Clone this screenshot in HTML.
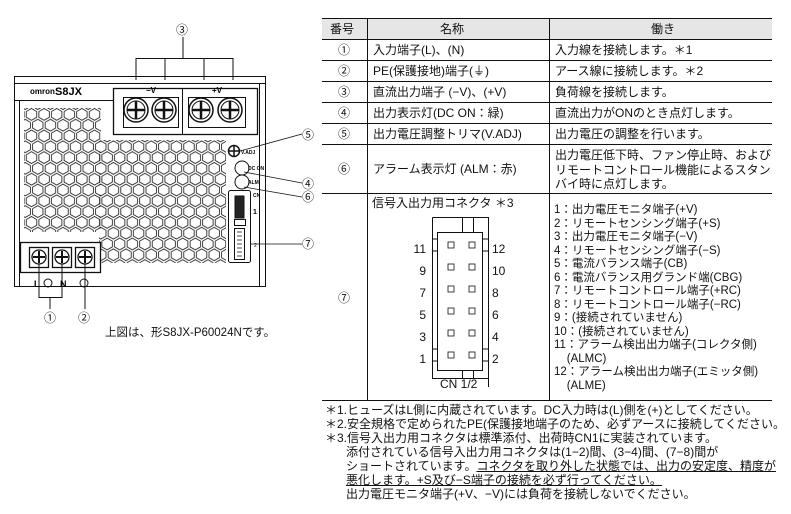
<!DOCTYPE html>
<html><head><meta charset="utf-8"><style>
body{margin:0;width:791px;height:514px;background:#fff;position:relative;overflow:hidden;font-family:"Liberation Sans","Noto Sans CJK JP",sans-serif;color:#111}
.t{position:absolute;white-space:nowrap;font-size:12px;line-height:14px}
.c{position:absolute;white-space:nowrap;font-size:11.5px;line-height:13.5px}
u{text-decoration:underline}
</style></head><body>
<svg width="791" height="514" style="position:absolute;left:0;top:0" xmlns="http://www.w3.org/2000/svg">
<defs>
<pattern id="hx" x="0" y="0" width="12.6" height="21.6" patternUnits="userSpaceOnUse">
<polygon points="6.3,0.5 11.5,3.5 11.5,9.3 6.3,12.3 1.1,9.3 1.1,3.5" fill="none" stroke="#111" stroke-width="0.8"/>
<polygon points="0,11.3 5.2,14.3 5.2,20.1 0,23.1 -5.2,20.1 -5.2,14.3" fill="none" stroke="#111" stroke-width="0.8"/>
<polygon points="12.6,11.3 17.8,14.3 17.8,20.1 12.6,23.1 7.4,20.1 7.4,14.3" fill="none" stroke="#111" stroke-width="0.8"/>
<polygon points="0,-10.3 5.2,-7.3 5.2,-1.5 0,1.5 -5.2,-1.5 -5.2,-7.3" fill="none" stroke="#111" stroke-width="0.8"/>
<polygon points="12.6,-10.3 17.8,-7.3 17.8,-1.5 12.6,1.5 7.4,-1.5 7.4,-7.3" fill="none" stroke="#111" stroke-width="0.8"/>
</pattern>
</defs>
<!-- table -->
<rect x="322" y="18" width="450" height="21" fill="#e6e6e6"/>
<g stroke="#111" stroke-width="1">
<line x1="322" y1="18.5" x2="772" y2="18.5"/>
<line x1="322" y1="39.5" x2="772" y2="39.5"/>
<line x1="322" y1="60.5" x2="772" y2="60.5"/>
<line x1="322" y1="81.5" x2="772" y2="81.5"/>
<line x1="322" y1="102.5" x2="772" y2="102.5"/>
<line x1="322" y1="123.5" x2="772" y2="123.5"/>
<line x1="322" y1="144.5" x2="772" y2="144.5"/>
<line x1="322" y1="193.5" x2="772" y2="193.5"/>
<line x1="322" y1="400.5" x2="772" y2="400.5"/>
<line x1="367.5" y1="18" x2="367.5" y2="400"/>
<line x1="549.5" y1="18" x2="549.5" y2="400"/>
</g>
<!-- connector -->
<g stroke="#111" stroke-width="1" fill="none">
<line x1="488.5" y1="217" x2="488.5" y2="387"/>
<path d="M432.5 217.5 H488 M432.5 217.5 V378.5 H488"/>
<rect x="437.5" y="232.5" width="45" height="138"/>
<path d="M462.5 217.5 V232.5 M473.5 217.5 V232.5 M462.5 370.5 V378.5 M473.5 370.5 V378.5"/>
<path d="M437.5 239 H433 M437.5 251 H433 M482.5 239 H488 M482.5 251 H488 M437.5 349 H433 M437.5 361 H433 M482.5 349 H488 M482.5 361 H488"/>
<g stroke-width="0.8">
<rect x="448" y="242" width="6" height="6"/><rect x="469" y="242" width="6" height="6"/>
<rect x="448" y="264" width="6" height="6"/><rect x="469" y="264" width="6" height="6"/>
<rect x="448" y="286" width="6" height="6"/><rect x="469" y="286" width="6" height="6"/>
<rect x="448" y="308" width="6" height="6"/><rect x="469" y="308" width="6" height="6"/>
<rect x="448" y="330" width="6" height="6"/><rect x="469" y="330" width="6" height="6"/>
<rect x="448" y="352" width="6" height="6"/><rect x="469" y="352" width="6" height="6"/>
</g>
</g>
<!-- device -->
<g stroke="#111" fill="none" stroke-width="1">
<rect x="14.5" y="76.5" width="251" height="210"/>
<line x1="14" y1="83.5" x2="265" y2="83.5"/>
<line x1="19.5" y1="100" x2="19.5" y2="286"/>
<line x1="14" y1="100.5" x2="113" y2="100.5"/>
<line x1="259.5" y1="84" x2="259.5" y2="286"/>
<rect x="24" y="108" width="77" height="124" fill="url(#hx)" stroke="none"/>
<rect x="99" y="140" width="127" height="123" fill="url(#hx)" stroke="none"/>
<rect x="113.5" y="88.5" width="144" height="46" fill="#fff" stroke-width="1.3"/>
<line x1="182.5" y1="89" x2="182.5" y2="134"/>
<rect x="123.5" y="97.5" width="55" height="30"/>
<rect x="188.5" y="97.5" width="57" height="30"/>
<g fill="#fff" stroke-width="1.5">
<circle cx="136" cy="110" r="12"/><circle cx="164" cy="110" r="12"/><circle cx="201" cy="110" r="12"/><circle cx="230" cy="110" r="12"/>
</g>
<g stroke-width="1">
<circle cx="136" cy="110" r="9"/><circle cx="164" cy="110" r="9"/><circle cx="201" cy="110" r="9"/><circle cx="230" cy="110" r="9"/>
<path d="M127 110h18M136 101v18M155 110h18M164 101v18M192 110h18M201 101v18M221 110h18M230 101v18" stroke-width="2.5"/>
</g>
<path d="M136 80 V58.5 H233 V80 M165 58.5 V80 M204 58.5 V80 M183 37 V58.5"/>
<rect x="20.5" y="242.5" width="80" height="30" fill="#fff" stroke-width="1.3"/>
<g fill="#fff" stroke-width="1.3">
<rect x="29.5" y="247.5" width="19" height="20"/><rect x="52.5" y="247.5" width="19" height="20"/><rect x="75.5" y="247.5" width="19" height="20"/>
<circle cx="39" cy="257" r="7"/><circle cx="62" cy="257" r="7"/><circle cx="85" cy="257" r="7"/>
</g>
<path d="M33 257h12M39 251v12M56 257h12M62 251v12M79 257h12M85 251v12" stroke-width="2"/>
<path d="M39 264 V297.5 H62 V264 M50 297.5 V309 M85 264 V309"/>
<circle cx="48" cy="283" r="4"/><circle cx="84" cy="283" r="4"/>
<circle cx="234" cy="151" r="5.5" stroke-width="1.5"/><path d="M229 151h10M234 146v10" stroke-width="1.5"/>
<circle cx="242" cy="168" r="7"/><circle cx="242" cy="182" r="7"/>
<rect x="228.5" y="190.5" width="22" height="72" rx="2"/>
<rect x="235" y="196" width="9" height="22" fill="#222"/>
<rect x="234.5" y="219.5" width="11" height="6"/>
<rect x="234.5" y="228.5" width="10" height="31"/>
<path d="M237 232h5M237 236h5M237 240h5M237 244h5M237 248h5M237 252h5M237 256h5" stroke-width="0.8"/>
<path d="M240 151 L302 134 M244 172 L302 183 M244 187 L302 197 M251 244 L302 244" stroke-width="0.8"/>
</g>
<rect x="28" y="85" width="50" height="10" fill="#fff"/>
<text x="30" y="94" font-size="8" font-family="Liberation Sans" font-weight="bold">omron</text>
<text x="55" y="95" font-size="11" font-family="Liberation Sans" font-weight="bold">S8JX</text>
<text x="146" y="93" font-size="8" font-weight="bold" font-family="Liberation Sans">−V</text>
<text x="212" y="93" font-size="8" font-weight="bold" font-family="Liberation Sans">+V</text>
<text x="241" y="154" font-size="5" font-weight="bold" font-family="Liberation Sans">V.ADJ</text>
<text x="248" y="170" font-size="5" font-weight="bold" font-family="Liberation Sans">DC ON</text>
<text x="248" y="184" font-size="5" font-weight="bold" font-family="Liberation Sans">ALM</text>
<text x="253" y="197" font-size="5" font-weight="bold" font-family="Liberation Sans">CN</text>
<text x="253" y="214" font-size="7" font-weight="bold" font-family="Liberation Sans">1</text>
<text x="254" y="247" font-size="5" font-family="Liberation Sans">2</text>
<text x="34" y="287" font-size="9" font-weight="bold" font-family="Liberation Sans">L</text>
<text x="60" y="287" font-size="9" font-weight="bold" font-family="Liberation Sans">N</text>
</svg>
<div class="t" style="left:176px;top:23px">③</div>
<div class="t" style="left:302px;top:128px">⑤</div>
<div class="t" style="left:302px;top:177px">④</div>
<div class="t" style="left:302px;top:190px">⑥</div>
<div class="t" style="left:302px;top:237px">⑦</div>
<div class="t" style="left:44px;top:311px">①</div>
<div class="t" style="left:78px;top:311px">②</div>
<div class="t" style="left:105px;top:326px;font-size:11.5px">上図は、形S8JX-P60024Nです。</div>

<div class="t" style="left:330px;top:22px">番号</div>
<div class="t" style="left:440px;top:22px">名称</div>
<div class="t" style="left:651px;top:22px">働き</div>
<div class="t" style="left:338px;top:43px">①</div><div class="t" style="left:373px;top:43px">入力端子(L)、(N)</div><div class="t" style="left:555px;top:43px">入力線を接続します。＊1</div>
<div class="t" style="left:338px;top:64px">②</div><div class="t" style="left:373px;top:64px">PE(保護接地)端子(⏚)</div><div class="t" style="left:555px;top:64px">アース線に接続します。＊2</div>
<div class="t" style="left:338px;top:85px">③</div><div class="t" style="left:373px;top:85px">直流出力端子 (−V)、(+V)</div><div class="t" style="left:555px;top:85px">負荷線を接続します。</div>
<div class="t" style="left:338px;top:106px">④</div><div class="t" style="left:373px;top:106px">出力表示灯(DC ON：緑)</div><div class="t" style="left:555px;top:106px">直流出力がONのとき点灯します。</div>
<div class="t" style="left:338px;top:127px">⑤</div><div class="t" style="left:373px;top:127px">出力電圧調整トリマ(V.ADJ)</div><div class="t" style="left:555px;top:127px">出力電圧の調整を行います。</div>
<div class="t" style="left:338px;top:162px">⑥</div><div class="t" style="left:373px;top:162px">アラーム表示灯 (ALM：赤)</div>
<div class="t" style="left:555px;top:148px;line-height:14.5px">出力電圧低下時、ファン停止時、および<br>リモートコントロール機能によるスタン<br>バイ時に点灯します。</div>
<div class="t" style="left:338px;top:291px">⑦</div>
<div class="t" style="left:372px;top:196px">信号入出力用コネクタ ＊3</div>
<div class="t" style="left:410px;top:238px;line-height:22px;text-align:right;width:16px">11<br>9<br>7<br>5<br>3<br>1</div>
<div class="t" style="left:492px;top:238px;line-height:22px">12<br>10<br>8<br>6<br>4<br>2</div>
<div class="t" style="left:440px;top:377px">CN 1/2</div>
<div class="c" style="left:554px;top:204px">1：出力電圧モニタ端子(+V)<br>2：リモートセンシング端子(+S)<br>3：出力電圧モニタ端子(−V)<br>4：リモートセンシング端子(−S)<br>5：電流バランス端子(CB)<br>6：電流バランス用グランド端(CBG)<br>7：リモートコントロール端子(+RC)<br>8：リモートコントロール端子(−RC)<br>9：(接続されていません)<br>10：(接続されていません)<br>11：アラーム検出出力端子(コレクタ側)<br>&nbsp;&nbsp;&nbsp;&nbsp;(ALMC)<br>12：アラーム検出出力端子(エミッタ側)<br>&nbsp;&nbsp;&nbsp;&nbsp;(ALME)</div>
<div class="t" style="left:325px;top:403px">＊1.ヒューズはL側に内蔵されています。DC入力時は(L)側を(+)としてください。</div>
<div class="t" style="left:325px;top:417px">＊2.安全規格で定められたPE(保護接地端子のため、必ずアースに接続してください。</div>
<div class="t" style="left:325px;top:431px">＊3.信号入出力用コネクタは標準添付、出荷時CN1に実装されています。</div>
<div class="t" style="left:346px;top:445px">添付されている信号入出力用コネクタは(1−2)間、(3−4)間、(7−8)間が</div>
<div class="t" style="left:346px;top:459px">ショートされています。<u>コネクタを取り外した状態では、出力の安定度、精度が</u></div>
<div class="t" style="left:346px;top:473px"><u>悪化します。+S及び−S端子の接続を必ず行ってください。</u></div>
<div class="t" style="left:346px;top:487px">出力電圧モニタ端子(+V、−V)には負荷を接続しないでください。</div>
</body></html>
